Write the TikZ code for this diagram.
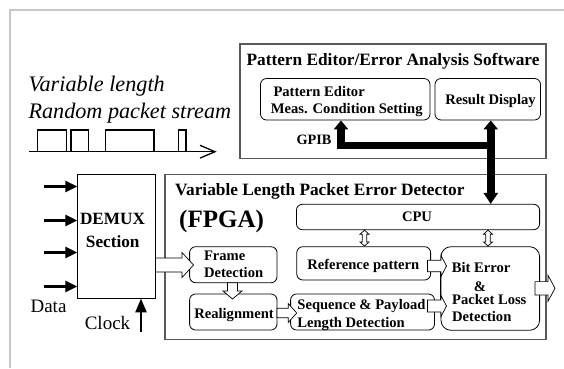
\documentclass[tikz,border=0pt]{standalone}
\usepackage{fontspec}
\setmainfont{Liberation Serif}
\usetikzlibrary{arrows.meta,calc}
\newcommand\hArr[6]{\draw[hollow] (#1,#3-#4) -- (#2-#6,#3-#4) -- (#2-#6,#3-#5) -- (#2,#3) -- (#2-#6,#3+#5) -- (#2-#6,#3+#4) -- (#1,#3+#4) -- cycle;}
\newcommand\vArrD[6]{\draw[hollow] (#3-#4,#1) -- (#3-#4,#2-#6) -- (#3-#5,#2-#6) -- (#3,#2) -- (#3+#5,#2-#6) -- (#3+#4,#2-#6) -- (#3+#4,#1) -- cycle;}
\newcommand\vArrDD[6]{\draw[hollow] (#3,#1) -- (#3+#5,#1+#6) -- (#3+#4,#1+#6) -- (#3+#4,#2-#6) -- (#3+#5,#2-#6) -- (#3,#2) -- (#3-#5,#2-#6) -- (#3-#4,#2-#6) -- (#3-#4,#1+#6) -- (#3-#5,#1+#6) -- cycle;}
\begin{document}
\begin{tikzpicture}[x=1pt,y=-1pt,
  bigbox/.style={draw=black!65, line width=1.1pt, inner sep=0pt},
  box/.style={draw=black, line width=0.8pt, rounded corners=6pt, inner sep=0pt},
  sqbox/.style={draw=black, line width=0.9pt, inner sep=0pt},
  hollow/.style={draw=black, fill=white, line width=0.7pt, line join=miter},
  bus/.style={line width=7.5pt, line join=miter, draw=black},
  inarr/.style={line width=2.6pt, draw=black, -{Triangle[width=11pt,length=12pt]}},
  bt/.style={inner sep=0pt, font=\fontsize{14.6}{16}\selectfont\bfseries, text height=9.9pt, text depth=0pt},
  ttl/.style={inner sep=0pt, font=\fontsize{17.3}{19}\selectfont\bfseries, text height=11.7pt, text depth=0pt},
  dm/.style={inner sep=0pt, font=\fontsize{17.2}{19}\selectfont\bfseries, text height=11.6pt, text depth=0pt},
  fp/.style={inner sep=0pt, font=\fontsize{25}{28}\selectfont\bfseries, text height=16.9pt, text depth=0pt},
  rg/.style={inner sep=0pt, font=\fontsize{19}{21}\selectfont, text height=12.6pt, text depth=0pt},
  itx/.style={inner sep=0pt, font=\fontsize{22.2}{25}\selectfont\itshape, anchor=base west}]
\useasboundingbox (0,0) rectangle (564,368);
\fill[white] (0,0) rectangle (564,368);
% outer gray frame
\draw[black!22, line width=2pt] (9.5,368) -- (9.5,10) -- (564,10);

% software box
\node[bigbox, minimum width=306pt, minimum height=114.3pt] (sw) at (393,101.15) {};
\node[ttl] (swt) at (393,60) {Pattern Editor/Error Analysis Software};
\node[box, minimum width=169.5pt, minimum height=41.5pt] (pe) at (345.25,99.25) {};
\node[box, minimum width=105.5pt, minimum height=41.5pt] (rd) at (487.75,99.25) {};
\node[bt, anchor=west] (pe1) at (273.3,91.5) {Pattern Editor};
\node[bt, anchor=west] (pe2) at (270.7,108.3) {Meas. Condition Setting};
\node[bt] (rdt) at (490.5,99.3) {Result Display};
\node[bt, font=\fontsize{14.3}{16}\selectfont\bfseries] (gpib) at (314,139.5) {GPIB};

% packet stream
\node[itx] (vl) at (28.3,91.5) {Variable length};
\node[itx] (rp) at (28.3,118.2) {Random packet stream};
\coordinate (s0) at (29.3,151.7);
\coordinate (s1) at (215,151.7);
\draw[line width=1.3pt] (s0) -- (s1);
\draw[line width=1.3pt] (200,145.3) -- (s1) -- (200,158.1);
\draw[line width=1.3pt] (37.7,151.7) -- (37.7,130) -- (66.7,130) -- (66.7,151.7);
\draw[line width=1.3pt] (71,151.7) -- (71,130) -- (88.3,130) -- (88.3,151.7);
\draw[line width=1.3pt] (105.3,151.7) -- (105.3,130) -- (154,130) -- (154,151.7);
\draw[line width=1.3pt] (178.3,151.7) -- (178.3,130) -- (186,130) -- (186,151.7);

% DEMUX
\node[sqbox, minimum width=77.8pt, minimum height=123.3pt] (demux) at (116.6,236.35) {};
\node[dm] (dm1) at (112.5,218.5) {DEMUX};
\node[dm] (dm2) at (112.7,241.5) {Section};
\coordinate (d1) at (44,186.5);
\coordinate (d2) at (44,220.5);
\coordinate (d3) at (44,252.5);
\coordinate (d4) at (44,286.5);
\foreach \d in {d1,d2,d3,d4} \draw[inarr] (\d) -- (\d -| demux.west);
\node[rg] (data) at (48.5,306.5) {Data};
\node[rg] (clock) at (107.5,323.5) {Clock};
\coordinate (ck) at (141,331.7);
\draw[inarr, -{Triangle[width=11pt,length=14pt]}] (ck) -- (ck |- demux.south);

% FPGA
\node[bigbox, minimum width=381pt, minimum height=165pt] (fpga) at (355.5,256.8) {};
\node[ttl, anchor=west] (fpt) at (175,190) {Variable Length Packet Error Detector};
\node[fp, anchor=west] (fpg) at (179,219.5) {(FPGA)};
\node[box, minimum width=243.2pt, minimum height=25.4pt] (cpu) at (418,217) {};
\node[bt] (cput) at (417,216.5) {CPU};
\node[box, minimum width=87.4pt, minimum height=36pt] (frame) at (233.3,264.7) {};
\node[bt, anchor=west] (fr1) at (203.8,255.3) {Frame};
\node[bt, anchor=west] (fr2) at (203.8,273) {Detection};
\node[box, minimum width=133.8pt, minimum height=33.3pt] (ref) at (363.7,263.35) {};
\node[bt] (reft) at (363.3,265) {Reference pattern};
\node[box, rounded corners=10pt, minimum width=98.6pt, minimum height=83.6pt] (bit) at (490.3,288.5) {};
\node[bt, anchor=west] (b1) at (451.7,267.7) {Bit Error};
\node[bt] (b2) at (480,286.3) {\&};
\node[bt, anchor=west] (b3) at (452,300) {Packet Loss};
\node[bt, anchor=west] (b4) at (452,316.5) {Detection};
\node[box, minimum width=87.4pt, minimum height=36pt] (realign) at (233.3,312) {};
\node[bt] (rat) at (234,314) {Realignment};
\node[box, minimum width=143.9pt, minimum height=36pt] (seq) at (362.55,312) {};
\node[bt, anchor=west] (sq1) at (297.2,305) {Sequence \& Payload};
\node[bt, anchor=west] (sq2) at (297.2,322.7) {Length Detection};

% GPIB bus
\coordinate (j1) at (341,145.5);
\coordinate (j2) at (490.75,145.5);
\draw[bus, -{Triangle[width=14pt,length=9pt]}] (j2) -- (j1) -- (j1 |- pe.south);
\draw[bus, {Triangle[width=14pt,length=9pt]}-{Triangle[width=14pt,length=11pt]}] (j2 |- rd.south) -- (j2 |- cpu.north);

% hollow arrows
\hArr{155.5}{193.5}{265}{7}{12.5}{11.5}
\vArrD{282.7}{299}{232.5}{5}{9.5}{8}
\hArr{277}{296.7}{313}{4.7}{9.5}{8.5}
\draw[line width=0.8pt] (440,262) -- (440,311);
\hArr{427.5}{446.5}{266}{5.8}{10.5}{5.5}
\hArr{427.5}{446.5}{306}{6}{10.5}{5.5}
\hArr{535}{555}{288.3}{6.7}{13}{7}
\vArrDD{230.2}{246}{364.5}{2.2}{4.5}{4}
\vArrDD{230.2}{246}{488}{2.2}{4.5}{4}
\end{tikzpicture}
\end{document}
